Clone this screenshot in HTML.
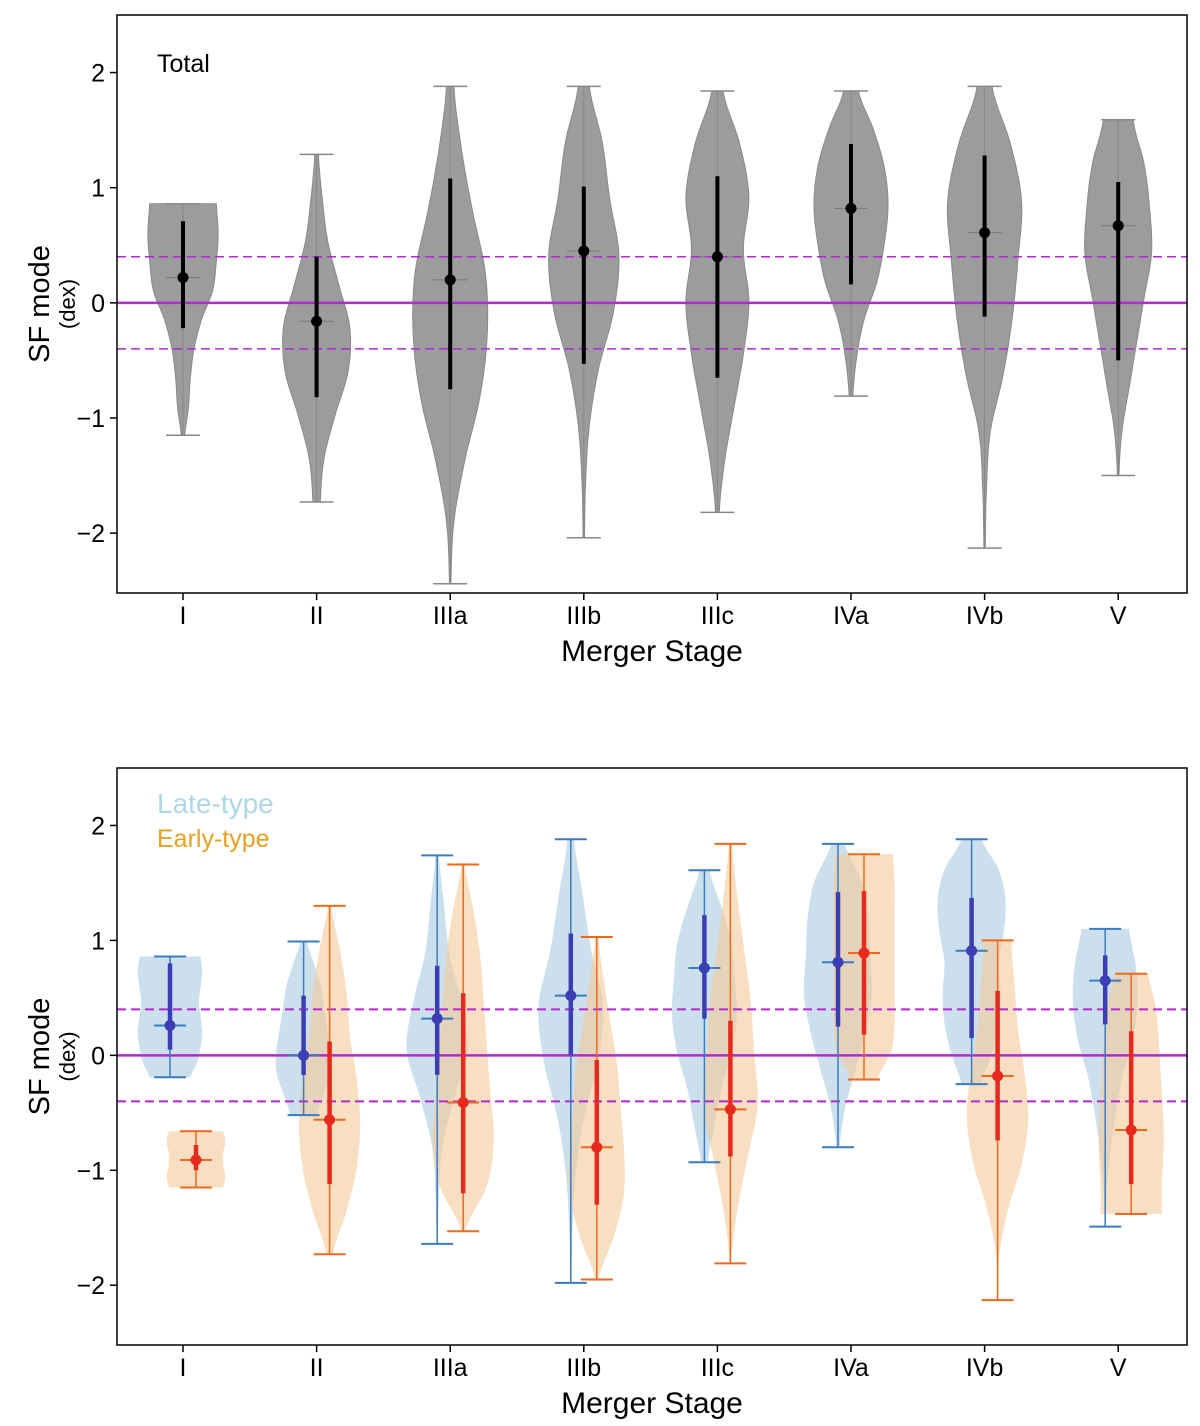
<!DOCTYPE html>
<html><head><meta charset="utf-8">
<style>
body{margin:0;background:#fff;}
svg{display:block;font-family:"Liberation Sans","DejaVu Sans",sans-serif;}
</style></head>
<body>
<svg id="chart" width="1200" height="1426" viewBox="0 0 1200 1426" xmlns="http://www.w3.org/2000/svg"></svg>
<script>
const stages = ["I","II","IIIa","IIIb","IIIc","IVa","IVb","V"];
// Total panel
const totMin = [-1.15,-1.73,-2.44,-2.04,-1.82,-0.81,-2.13,-1.50];
const totMax = [0.86,1.29,1.88,1.88,1.84,1.84,1.88,1.59];
const totMed = [0.22,-0.16,0.20,0.45,0.40,0.82,0.61,0.67];
const totQ1 = [-0.22,-0.82,-0.75,-0.53,-0.65,0.16,-0.12,-0.50];
const totQ3 = [0.71,0.40,1.08,1.01,1.10,1.38,1.28,1.05];
const totShape = [
 [0.05,0.15,0.2,0.3,0.5,0.8,0.9,0.95,0.9],
 [0.1,0.2,0.5,0.85,0.9,0.6,0.3,0.15,0.05],
 [0.02,0.1,0.4,0.8,1.0,0.95,0.6,0.3,0.1],
 [0.02,0.05,0.15,0.4,0.8,0.95,0.7,0.5,0.15],
 [0.05,0.2,0.45,0.7,0.85,0.7,0.85,0.6,0.15],
 [0.05,0.15,0.35,0.7,0.9,1.0,0.9,0.6,0.2],
 [0.02,0.05,0.15,0.5,0.75,0.9,1.0,0.7,0.2],
 [0.02,0.1,0.3,0.5,0.7,0.9,0.85,0.7,0.4]];
// Late-type
const lateMin = [-0.19,-0.52,-1.64,-1.98,-0.93,-0.80,-0.25,-1.49];
const lateMax = [0.86,0.99,1.74,1.88,1.61,1.84,1.88,1.10];
const lateMed = [0.26,0.00,0.32,0.52,0.76,0.81,0.91,0.65];
const lateQ1 = [0.05,-0.17,-0.17,0.00,0.32,0.25,0.15,0.27];
const lateQ3 = [0.80,0.52,0.78,1.06,1.22,1.42,1.37,0.87];
const lateShape = [
 [0.6,0.8,0.9,0.95,0.9,0.85,0.9,0.95,0.9],
 [0.4,0.6,0.8,0.8,0.7,0.6,0.5,0.3,0.1],
 [0.02,0.05,0.15,0.5,0.9,0.7,0.35,0.2,0.05],
 [0.02,0.05,0.15,0.4,0.8,0.95,0.6,0.35,0.1],
 [0.1,0.3,0.5,0.8,0.95,0.9,0.8,0.5,0.15],
 [0.05,0.2,0.5,0.8,1.0,0.95,0.9,0.7,0.2],
 [0.3,0.6,0.8,0.85,0.8,0.95,1.0,0.8,0.3],
 [0.02,0.05,0.15,0.3,0.5,0.8,0.95,0.9,0.7]];
// Early-type
const earlyMin = [-1.15,-1.73,-1.53,-1.95,-1.81,-0.21,-2.13,-1.38];
const earlyMax = [-0.66,1.30,1.66,1.03,1.84,1.75,1.00,0.71];
const earlyMed = [-0.91,-0.56,-0.41,-0.80,-0.47,0.89,-0.18,-0.65];
const earlyQ1 = [-1.00,-1.12,-1.20,-1.30,-0.88,0.18,-0.74,-1.12];
const earlyQ3 = [-0.78,0.12,0.54,-0.04,0.30,1.43,0.56,0.21];
const earlyShape = [
 [0.8,0.85,0.85,0.8,0.8,0.8,0.85,0.85,0.8],
 [0.1,0.5,0.8,0.9,0.8,0.6,0.5,0.3,0.05],
 [0.05,0.7,0.9,0.8,0.7,0.6,0.5,0.3,0.05],
 [0.05,0.5,0.8,0.8,0.7,0.6,0.4,0.2,0.05],
 [0.02,0.2,0.5,0.8,0.7,0.6,0.4,0.2,0.05],
 [0.4,0.8,0.9,0.9,0.9,0.9,0.9,0.9,0.85],
 [0.02,0.05,0.3,0.7,0.9,0.8,0.6,0.5,0.4],
 [0.9,0.9,0.95,0.95,0.9,0.85,0.8,0.7,0.5]];
const yTicks = [-2,-1,0,1,2];
const yTickLabels = ["\u22122","\u22121","0","1","2"];
const refLines = [-0.4,0,0.4];

const svg = document.getElementById('chart');
const NS = 'http://www.w3.org/2000/svg';
function mk(tag, attrs, parent){const e=document.createElementNS(NS,tag);for(const k in attrs)e.setAttribute(k,attrs[k]);(parent||svg).appendChild(e);return e;}
const X0=117,X1=1187;
function xPos(i){return 183+133.6*i;}
function makeY(top,bottom){const lo=-2.52,hi=2.5;return v=>bottom-(v-lo)/(hi-lo)*(bottom-top);}

function smoothW(shape,t){
  const n=shape.length-1;const f=t*n;const k=Math.min(n-1,Math.floor(f));const u=f-k;
  const p0=shape[Math.max(0,k-1)],p1=shape[k],p2=shape[k+1],p3=shape[Math.min(n,k+2)];
  const w=0.5*((2*p1)+(-p0+p2)*u+(2*p0-5*p1+4*p2-p3)*u*u+(-p0+3*p1-3*p2+p3)*u*u*u);
  return Math.max(0.01,w);
}
function violinPath(cx,mn,mx,shape,hw,y){
  const N=60;let L=[],R=[];
  for(let k=0;k<=N;k++){const t=k/N;const v=mn+(mx-mn)*t;const w=smoothW(shape,t)*hw;R.push([cx+w,y(v)]);L.push([cx-w,y(v)]);}
  let d='M'+R.map(p=>p[0].toFixed(1)+','+p[1].toFixed(1)).join(' L');
  d+=' L'+L.reverse().map(p=>p[0].toFixed(1)+','+p[1].toFixed(1)).join(' L')+' Z';
  return d;
}

function panel(top,bottom,name){
  const y=makeY(top,bottom);
  const g=mk('g',{});
  
  
  yTicks.forEach((t,i)=>{
    const tk=mk('line',{x1:X0-7,x2:X0,y1:y(t),y2:y(t),stroke:'#000','stroke-width':1.5},g);
    
    
    const tl=mk('text',{x:X0-12,y:y(t)+9,'text-anchor':'end','font-size':25},g);
    tl.textContent=yTickLabels[i];
    
    
  });
  stages.forEach((s,i)=>{
    const tk=mk('line',{x1:xPos(i),x2:xPos(i),y1:bottom,y2:bottom+7,stroke:'#000','stroke-width':1.5},g);
    
    
    const tl=mk('text',{x:xPos(i),y:bottom+31,'text-anchor':'middle','font-size':25},g);
    tl.textContent=s;
    
    
  });
  const xl=mk('text',{x:652,y:bottom+68,'text-anchor':'middle','font-size':30},g);
  xl.textContent='Merger Stage';
  
  
  const yl=mk('text',{transform:`translate(49,${(top+bottom)/2}) rotate(-90)`,'text-anchor':'middle','font-size':29},g);
  yl.textContent='SF mode';
  
  
  const yl2=mk('text',{transform:`translate(75,${(top+bottom)/2}) rotate(-90)`,'text-anchor':'middle','font-size':22},g);
  yl2.textContent='(dex)';
  
  
  return {y,g};
}

function refs(p,w){
  refLines.forEach(v=>{
    const l=mk('line',{x1:X0,x2:X1,y1:p.y(v),y2:p.y(v),stroke:'#b02ad0','stroke-width':v===0?2.5:w,'stroke-dasharray':v===0?'none':'9,5'},p.g);
    
    
  });
}

function frame(p,top,bottom){
  const r=mk('rect',{x:X0,y:top,width:X1-X0,height:bottom-top,fill:'none',stroke:'#000','stroke-width':1.5},p.g);
  
  
}

// Top panel
const T=15,B=593;
const p1=panel(T,B,'total-panel');
stages.forEach((s,i)=>{
  const cx=xPos(i),y=p1.y;
  const v=mk('path',{d:violinPath(cx,totMin[i],totMax[i],totShape[i],37,y),fill:'#9c9c9c',stroke:'#8a8a8a','stroke-width':1},p1.g);
  
  
  const ln=mk('line',{x1:cx,x2:cx,y1:y(totMin[i]),y2:y(totMax[i]),stroke:'#888','stroke-width':1},p1.g);
  
  
  [totMin[i],totMax[i]].forEach(v2=>{
    const c=mk('line',{x1:cx-17,x2:cx+17,y1:y(v2),y2:y(v2),stroke:'#888','stroke-width':1.5},p1.g);
    
    
  });
  const md=mk('line',{x1:cx-17,x2:cx+17,y1:y(totMed[i]),y2:y(totMed[i]),stroke:'#777','stroke-width':1},p1.g);
  
  
});
refs(p1,1.5);
stages.forEach((s,i)=>{
  const cx=xPos(i),y=p1.y;
  const q=mk('line',{x1:cx,x2:cx,y1:y(totQ1[i]),y2:y(totQ3[i]),stroke:'#000','stroke-width':4},p1.g);
  
  
  const d=mk('circle',{cx:cx,cy:y(totMed[i]),r:5.5,fill:'#000'},p1.g);
  
  
});
frame(p1,T,B);
const tt=mk('text',{x:157,y:72,'font-size':25},p1.g);
tt.textContent='Total';



// Bottom panel
const T2=768,B2=1345;
const p2=panel(T2,B2,'type-panel');
function group(p,off,mins,maxs,shapes,fill,tag){
  stages.forEach((s,i)=>{
    const cx=xPos(i)+off,y=p.y;
    const v=mk('path',{d:violinPath(cx,mins[i],maxs[i],shapes[i],34,y),fill:fill,'fill-opacity':0.6,stroke:'none'},p.g);
    
    
  });
}
function marks(p,off,mins,maxs,meds,q1s,q3s,lc,qc,tag){
  stages.forEach((s,i)=>{
    const cx=xPos(i)+off,y=p.y;
    const ln=mk('line',{x1:cx,x2:cx,y1:y(mins[i]),y2:y(maxs[i]),stroke:lc,'stroke-width':1.5},p.g);
    
    
    [mins[i],maxs[i],meds[i]].forEach(v2=>{
      const c=mk('line',{x1:cx-16,x2:cx+16,y1:y(v2),y2:y(v2),stroke:lc,'stroke-width':2},p.g);
      
      
    });
    const q=mk('line',{x1:cx,x2:cx,y1:y(q1s[i]),y2:y(q3s[i]),stroke:qc,'stroke-width':4.5},p.g);
    
    
    const d=mk('circle',{cx:cx,cy:y(meds[i]),r:5.5,fill:qc},p.g);
    
    
  });
}
group(p2,-13,lateMin,lateMax,lateShape,'#a9cbe0','late');
group(p2,13,earlyMin,earlyMax,earlyShape,'#f5c99a','early');
refs(p2,2);
marks(p2,-13,lateMin,lateMax,lateMed,lateQ1,lateQ3,'#3a7cc0','#3b3fb3','late');
marks(p2,13,earlyMin,earlyMax,earlyMed,earlyQ1,earlyQ3,'#ee6a1a','#e62a1e','early');
frame(p2,T2,B2);
const l1=mk('text',{x:157,y:813,'font-size':28,fill:'#add8e6'},p2.g);
l1.textContent='Late-type';


const l2=mk('text',{x:157,y:847,'font-size':25,fill:'#e8a020'},p2.g);
l2.textContent='Early-type';


</script>
</body></html>
